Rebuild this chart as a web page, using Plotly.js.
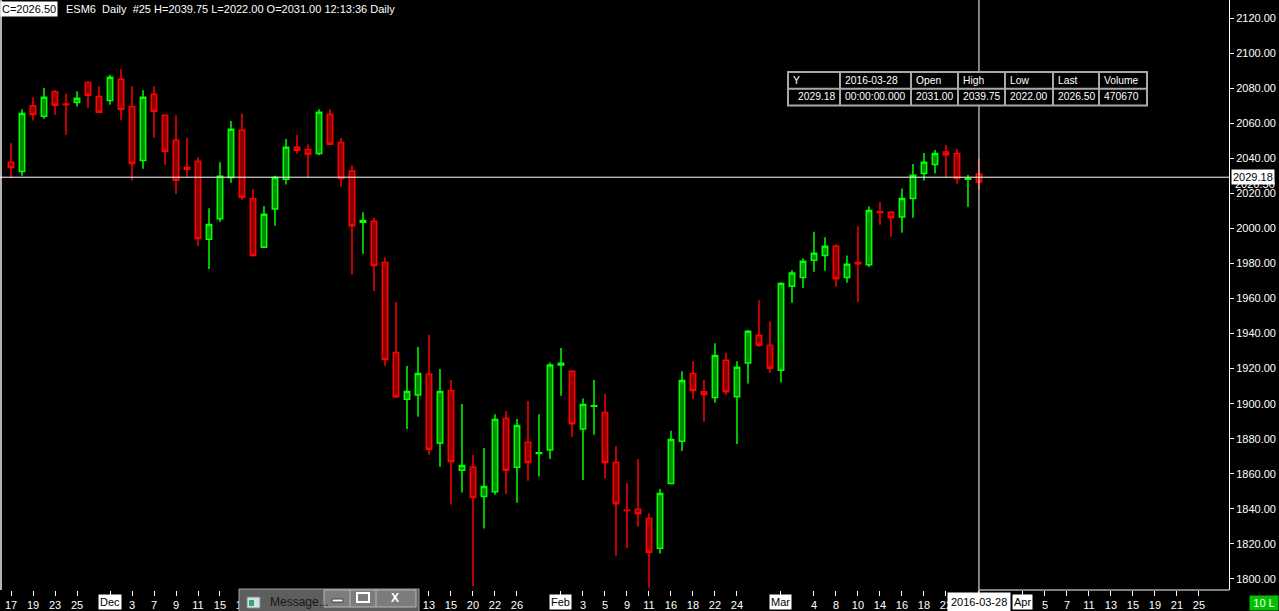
<!DOCTYPE html>
<html>
<head>
<meta charset="utf-8">
<script src="https://cdn.plot.ly/plotly-3.0.1.min.js"></script>
<style>
html,body{margin:0;padding:0;background:#000;}
#chart{width:1279px;height:611px;}
</style>
</head>
<body>
<div id="chart"></div>
<script>
// ---------- DATA ----------
const tradingDays = [
 "2015-11-17","2015-11-18","2015-11-19","2015-11-20","2015-11-23","2015-11-24","2015-11-25","2015-11-27","2015-11-30",
 "2015-12-01","2015-12-02","2015-12-03","2015-12-04","2015-12-07","2015-12-08","2015-12-09","2015-12-10","2015-12-11",
 "2015-12-14","2015-12-15","2015-12-16","2015-12-17","2015-12-18","2015-12-21","2015-12-22","2015-12-23","2015-12-24",
 "2015-12-28","2015-12-29","2015-12-30","2015-12-31",
 "2016-01-04","2016-01-05","2016-01-06","2016-01-07","2016-01-08","2016-01-11","2016-01-12","2016-01-13","2016-01-14",
 "2016-01-15","2016-01-19","2016-01-20","2016-01-21","2016-01-22","2016-01-25","2016-01-26","2016-01-27","2016-01-28","2016-01-29",
 "2016-02-01","2016-02-02","2016-02-03","2016-02-04","2016-02-05","2016-02-08","2016-02-09","2016-02-10","2016-02-11","2016-02-12",
 "2016-02-16","2016-02-17","2016-02-18","2016-02-19","2016-02-22","2016-02-23","2016-02-24","2016-02-25","2016-02-26","2016-02-29",
 "2016-03-01","2016-03-02","2016-03-03","2016-03-04","2016-03-07","2016-03-08","2016-03-09","2016-03-10","2016-03-11",
 "2016-03-14","2016-03-15","2016-03-16","2016-03-17","2016-03-18","2016-03-21","2016-03-22","2016-03-23","2016-03-24","2016-03-28",
 "2016-03-29","2016-03-30","2016-03-31","2016-04-01","2016-04-04","2016-04-05","2016-04-06","2016-04-07","2016-04-08",
 "2016-04-11","2016-04-12","2016-04-13","2016-04-14","2016-04-15","2016-04-18","2016-04-19","2016-04-20","2016-04-21",
 "2016-04-22","2016-04-25","2016-04-26","2016-04-27"
];

const openVals = [
 2037.75,2032.5,2070,2064,2078,2071,2071.75,2083.25,2075.25,
 2073,2085,2069.5,2038.75,2076.5,2064.5,2050.25,2034.75,2038.25,1993.75,2005.5,2029,2056,2017,1989.25,2011,2028,2046.25,2045,2042.75,2065,2049,
 2032.75,2003.5,2004,1980.5,1929.25,1902.5,1905,1916.75,1877.5,1907.5,1862,1863.75,1847,1849.75,1891.5,1863.75,1878,1871.5,1873.5,
 1922,1918.5,1885.5,1898.5,1895,1866.5,1839.25,1839.75,1834.5,1817.5,1854.5,1878.5,1917.25,1906.75,1903.5,1924.75,1904,1923.25,1939,1933.25,
 1919,1967,1972,1981.75,1984.5,1989.75,1972,1980.5,1979.25,2009.5,2009.25,2006.5,2017,2031.25,2036.5,2043.5,2042.75,2028,2031
];
const highVals = [
 2048.5,2068,2074.75,2080,2079,2077,2078.25,2083.75,2081,
 2087.5,2090.75,2081,2078.75,2081,2065,2064.5,2051.5,2040.5,2011.5,2037.75,2061.25,2065.5,2022.25,2012.75,2030,2051,2053.25,2048,2068,2068,2051.5,
 2036,2009.25,2006,1983.5,1958,1921.5,1932.25,1939.25,1919.75,1913.5,1899.75,1870.75,1874.75,1894,1895.75,1891.25,1901.5,1894,1923.5,
 1931.75,1919,1903,1913.5,1905.5,1875.75,1854.75,1868.5,1837.5,1851.25,1884.5,1918.5,1924.25,1913.5,1934.5,1929,1924.25,1942,1959,1947,
 1969.25,1976.25,1983,1998,1995,1991,1984.5,2001.25,2012.5,2015,2009.75,2022.75,2036.75,2043,2044.75,2047.5,2045.25,2030.5,2039.75
];
const lowVals = [
 2028.5,2030,2061.5,2062.5,2064.75,2053.25,2069.5,2068.75,2065.75,
 2070.5,2062,2027.25,2034,2051.75,2036.25,2019.75,2029.5,1990,1976.75,2003.75,2026,2016.25,1984,1989,2001.5,2025,2042.5,2029,2041.75,2047.5,2023.75,
 1973.5,1985.5,1964.25,1921.5,1903.25,1885.5,1892.5,1870.75,1864,1842.5,1849.25,1796,1828.75,1848,1848.5,1843.5,1856,1858.5,1868.5,
 1904.5,1881,1856.5,1882.25,1857.25,1813.25,1817.5,1829.75,1795,1814.5,1854,1873,1902.75,1889.75,1900.5,1905,1877,1911.5,1932.5,1917.5,
 1912,1957.5,1966,1975.25,1975.75,1966.75,1969,1958,1978,2002,1995.25,1997.5,2006,2027.25,2031.25,2029,2025.5,2012.25,2022
];
const closeVals = [
 2034.75,2065.5,2065,2074.75,2070.25,2070.5,2074.25,2076,2066.25,
 2086.25,2068,2037,2074.75,2066.75,2044,2027.5,2033.75,1994.25,2002.25,2029.75,2056.5,2017.75,1984.5,2008,2029,2046.25,2044.5,2042.25,2066.25,2048,2028.5,
 2001.5,2004.5,1978.75,1925.25,1904,1907,1917.25,1874,1907,1867,1864.75,1846.5,1852.75,1891,1862,1887.5,1866.5,1872,1922,
 1923,1888.5,1899.5,1898.75,1866.5,1843,1839,1837.25,1815.25,1848.75,1879.5,1913.25,1907.5,1905.25,1927.5,1906.75,1920.75,1941.25,1933.25,1920.25,
 1968.5,1974.5,1981.25,1985.75,1989.75,1971.25,1979.5,1979.75,2010.25,2009,2006,2017,2030.25,2037.75,2042.75,2042,2028.5,2028.5,2026.5
];

// x-axis labels (date -> text); month labels are drawn boxed
const tickDates = [
 "2015-11-17","2015-11-19","2015-11-23","2015-11-25","2015-12-03","2015-12-07","2015-12-09","2015-12-11","2015-12-15","2015-12-17",
 "2016-01-13","2016-01-15","2016-01-20","2016-01-22","2016-01-26","2016-02-03","2016-02-05","2016-02-09","2016-02-11","2016-02-16",
 "2016-02-18","2016-02-22","2016-02-24","2016-03-04","2016-03-08","2016-03-10","2016-03-14","2016-03-16","2016-03-18","2016-03-22",
 "2016-04-05","2016-04-07","2016-04-11","2016-04-13","2016-04-15","2016-04-19","2016-04-21","2016-04-25"
];
const tickLabels = ["17","19","23","25","3","7","9","11","15","17",
 "13","15","20","22","26","3","5","9","11","16",
 "18","22","24","4","8","10","14","16","18","22",
 "5","7","11","13","15","19","21","25"];
const monthDates = ["2015-12-01","2016-02-01","2016-03-01","2016-04-01"];
const monthLabels = ["Dec","Feb","Mar","Apr"];

const cursorDate = "2016-03-28";
const cursorPrice = 2029.18;
const lastPrice = 2026.50;
const tableHeader = ["Y","2016-03-28","Open","High","Low","Last","Volume"];
const tableRow = ["2029.18","00:00:00.000","2031.00","2039.75","2022.00","2026.50","470670"];
const headerText = "ESM6  Daily  #25 H=2039.75 L=2022.00 O=2031.00 12:13:36 Daily";
const closeLabel = "C=2026.50";

// ---------- BUILD ----------
const FONT = "Liberation Sans, Arial, sans-serif";
const PW = 1229, PH = 590;
const px = x => x / PW;
const py = y => 1 - y / PH;
const idx = d => tradingDays.indexOf(d);

const n = openVals.length;
const xs = tradingDays.slice(0, n).map(d => idx(d));

const trace = {
  type: "candlestick",
  x: xs, open: openVals, high: highVals, low: lowVals, close: closeVals,
  increasing: {line: {color: "#00ff00", width: 1.5}, fillcolor: "#008c00"},
  decreasing: {line: {color: "#ff0000", width: 1.5}, fillcolor: "#8b0000"},
  hoverinfo: "skip", showlegend: false
};

const tickvals = tickDates.map(idx).concat(monthDates.map(idx)).concat([idx(cursorDate)]);
const ticktext = tickLabels.concat(monthDates.map(() => "")).concat([""]);

const shapes = [];
const annotations = [];

// left border
shapes.push({type:"line", xref:"paper", yref:"paper", x0:px(1), x1:px(1), y0:0, y1:1, line:{color:"#b4b4b4", width:2}, layer:"above"});
// crosshair
shapes.push({type:"line", xref:"paper", yref:"y", x0:0, x1:1, y0:cursorPrice, y1:cursorPrice, line:{color:"#ffffff", width:1}, layer:"above"});
shapes.push({type:"line", xref:"x", yref:"paper", x0:idx(cursorDate), x1:idx(cursorDate), y0:1, y1:py(593), line:{color:"#ffffff", width:1}, layer:"above"});
shapes.push({type:"line", xref:"x", yref:"paper", x0:idx(cursorDate), x1:110.73, y0:py(590), y1:py(590), line:{color:"#ffffff", width:1}, layer:"above"});

// data table
const colX = [788, 840, 911, 958, 1005, 1053, 1099, 1147];
const TF = {family:FONT, size:10.3, color:"#ffffff"};
shapes.push({type:"rect", xref:"paper", yref:"paper", x0:px(788), x1:px(1147), y0:py(72), y1:py(105.5), fillcolor:"#000000", line:{color:"#a8a8a8", width:2}, layer:"above"});
shapes.push({type:"line", xref:"paper", yref:"paper", x0:px(788), x1:px(1147), y0:py(88.7), y1:py(88.7), line:{color:"#a8a8a8", width:2}, layer:"above"});
for (let i = 1; i < colX.length - 1; i++) {
  shapes.push({type:"line", xref:"paper", yref:"paper", x0:px(colX[i]), x1:px(colX[i]), y0:py(72), y1:py(105.5), line:{color:"#a8a8a8", width:2}, layer:"above"});
}
tableHeader.forEach((t, i) => {
  annotations.push({xref:"paper", yref:"paper", x:px(colX[i] + 3), y:py(80.5), xanchor:"left", yanchor:"middle", text:t, showarrow:false, font:TF});
});
tableRow.forEach((t, i) => {
  if (i === 0) {
    annotations.push({xref:"paper", yref:"paper", x:px(colX[1] - 3), y:py(97), xanchor:"right", yanchor:"middle", text:t, showarrow:false, font:TF});
  } else {
    annotations.push({xref:"paper", yref:"paper", x:px(colX[i] + 3), y:py(97), xanchor:"left", yanchor:"middle", text:t, showarrow:false, font:TF});
  }
});

// header
annotations.push({xref:"paper", yref:"paper", x:0, y:py(9), xanchor:"left", yanchor:"middle", text:closeLabel, showarrow:false, bgcolor:"#ffffff", borderpad:1, font:{family:FONT, size:11, color:"#000000"}});
annotations.push({xref:"paper", yref:"paper", x:px(64), y:py(9), xanchor:"left", yanchor:"middle", text:headerText.replace(/  /g, "&nbsp; "), showarrow:false, font:{family:FONT, size:11, color:"#ffffff"}});

// price labels on y axis (last price label sits partly under the cursor label, as in the source)
annotations.push({xref:"paper", yref:"y", x:px(1233), y:lastPrice - 1.2, xanchor:"left", yanchor:"middle", text:lastPrice.toFixed(2), showarrow:false, font:{family:FONT, size:11, color:"#ffffff"}});
annotations.push({xref:"paper", yref:"y", x:px(1231), y:cursorPrice, xanchor:"left", yanchor:"middle", text:cursorPrice.toFixed(2), showarrow:false, bgcolor:"#ffffff", borderpad:1, font:{family:FONT, size:11, color:"#000000"}});

// month labels & cursor date label on x axis
monthDates.forEach((d, i) => {
  annotations.push({xref:"x", yref:"paper", x:idx(d), y:py(601.5), xanchor:"center", yanchor:"middle", text:monthLabels[i], showarrow:false, bgcolor:"#ffffff", borderpad:1, font:{family:FONT, size:11, color:"#000000"}});
});
annotations.push({xref:"x", yref:"paper", x:idx(cursorDate), y:py(601.5), xanchor:"center", yanchor:"middle", text:cursorDate, showarrow:false, bgcolor:"#ffffff", borderpad:3, font:{family:FONT, size:11, color:"#000000"}});

// "10 L" box
annotations.push({xref:"paper", yref:"paper", x:px(1264), y:py(603), xanchor:"center", yanchor:"middle", text:"10 L", showarrow:false, bgcolor:"#00c000", borderpad:1, width:26, font:{family:FONT, size:11, color:"#ffffff"}});

// taskbar "Message..." window overlay
shapes.push({type:"rect", xref:"paper", yref:"paper", x0:px(239), x1:px(419), y0:py(589), y1:py(613), fillcolor:"#5e5e5e", line:{color:"#a0a0a0", width:1}, layer:"above"});
shapes.push({type:"rect", xref:"paper", yref:"paper", x0:px(247), x1:px(260), y0:py(597), y1:py(608), fillcolor:"#cfe3ea", line:{color:"#7a8a90", width:1}, layer:"above"});
shapes.push({type:"rect", xref:"paper", yref:"paper", x0:px(249), x1:px(254), y0:py(600), y1:py(606), fillcolor:"#3aa860", line:{width:0}, layer:"above"});
shapes.push({type:"rect", xref:"paper", yref:"paper", x0:px(324), x1:px(416), y0:py(590), y1:py(607), fillcolor:"#7c7c7c", line:{color:"#b8b8b8", width:1}, layer:"above"});
shapes.push({type:"line", xref:"paper", yref:"paper", x0:px(350), x1:px(350), y0:py(590), y1:py(607), line:{color:"#b8b8b8", width:1}, layer:"above"});
shapes.push({type:"line", xref:"paper", yref:"paper", x0:px(376), x1:px(376), y0:py(590), y1:py(607), line:{color:"#b8b8b8", width:1}, layer:"above"});
shapes.push({type:"rect", xref:"paper", yref:"paper", x0:px(332), x1:px(343), y0:py(599), y1:py(602), fillcolor:"#ffffff", line:{color:"#404040", width:1}, layer:"above"});
shapes.push({type:"rect", xref:"paper", yref:"paper", x0:px(357), x1:px(369), y0:py(593), y1:py(602), fillcolor:"rgba(0,0,0,0)", line:{color:"#ffffff", width:2}, layer:"above"});
annotations.push({xref:"paper", yref:"paper", x:px(268), y:py(602), xanchor:"left", yanchor:"middle", text:"Message...", showarrow:false, font:{family:FONT, size:12, color:"#161616"}});
annotations.push({xref:"paper", yref:"paper", x:px(395), y:py(598), xanchor:"center", yanchor:"middle", text:"<b>X</b>", showarrow:false, font:{family:FONT, size:12, color:"#ffffff"}});

const layout = {
  width: 1279, height: 611,
  margin: {l: 0, r: 50, t: 0, b: 21, pad: 0},
  paper_bgcolor: "#000000", plot_bgcolor: "#000000",
  showlegend: false,
  font: {family: FONT, size: 11, color: "#ffffff"},
  xaxis: {
    type: "linear", range: [-1, 110.73], autorange: false,
    tickmode: "array", tickvals: tickvals, ticktext: ticktext,
    ticks: "outside", ticklen: 5, tickcolor: "#ffffff", tickwidth: 1,
    tickfont: {family: FONT, size: 11, color: "#ffffff"},
    showgrid: false, zeroline: false, showline: false,
    rangeslider: {visible: false}, fixedrange: true
  },
  yaxis: {
    side: "right", range: [1793.7, 2130.27], autorange: false,
    tickmode: "linear", tick0: 1800, dtick: 20, tickformat: ".2f",
    ticks: "outside", ticklen: 4, tickcolor: "#ffffff", tickwidth: 1,
    tickfont: {family: FONT, size: 11, color: "#ffffff"},
    showgrid: false, zeroline: false, showline: true, linecolor: "#ffffff", linewidth: 1,
    fixedrange: true
  },
  shapes: shapes,
  annotations: annotations
};

Plotly.newPlot("chart", [trace], layout, {displayModeBar: false, staticPlot: true});
</script>
</body>
</html>
